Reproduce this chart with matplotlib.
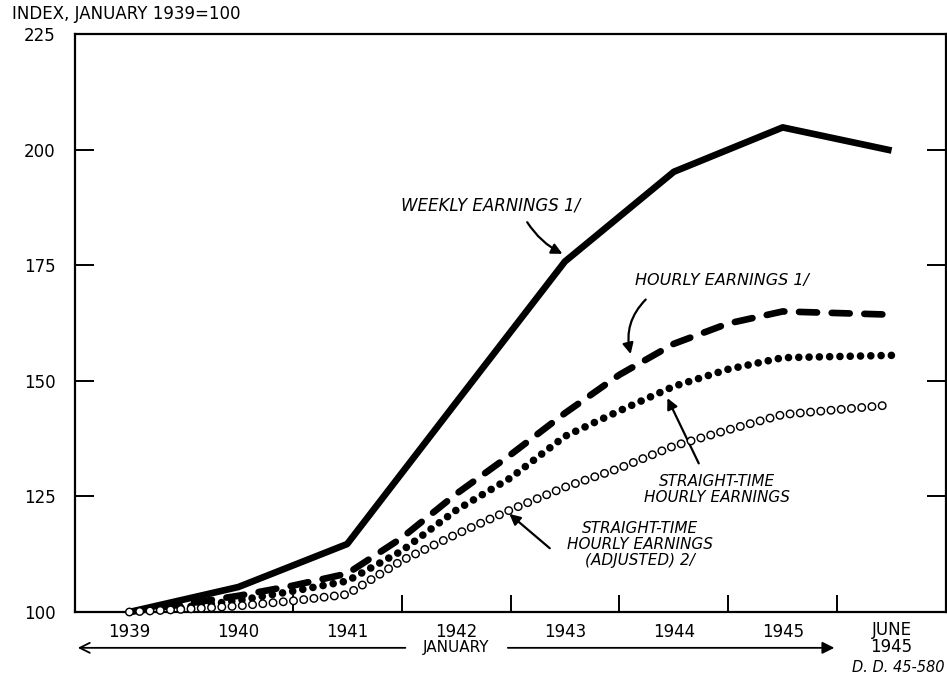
import matplotlib.pyplot as plt

# index, January 1939 = 100
x_labels = ['1939', '1940', '1941', '1942', '1943', '1944', '1945']
x_pos = [0, 0.5, 1, 1.5, 2, 2.5, 3, 3.5, 4, 4.5, 5, 5.5, 6, 7]
weekly_x = [0, 1, 2, 3, 4, 5, 6, 7]
weekly = [100, 105.4, 114.7, 145.3, 175.8, 195.2, 204.8, 199.8]
hourly = [100, 101.7, 103.5, 105.7, 108.3, 116, 125.5, 134, 143, 151.3, 158, 162.4, 165, 164.3]
straight = [100, 101, 102.5, 104.5, 106.7, 113.2, 122, 129, 138, 143.5, 148.8, 152.5, 155, 155.5]
adjusted = [100, 100.6, 101.3, 102.4, 103.8, 111.1, 116.8, 122.1, 127, 131.1, 135.9, 139.4, 142.7, 144.8]
y_ticks = [100, 125, 150, 175, 200, 225]

fig = plt.figure(figsize=(9.47, 6.75), dpi=100)
ax = fig.add_axes([75/947, 63/675, 871/947, 578/675])
ax.set_xlim(-0.5, 7.5)
ax.set_ylim(100, 225)

ax.plot(weekly_x, weekly, color='black', lw=4.8, solid_joinstyle='round',
        solid_capstyle='butt', clip_on=False, zorder=3)
ax.plot(x_pos, hourly, color='black', lw=4.8, linestyle=(0, (2.7, 2.2)),
        dash_capstyle='round', clip_on=False, zorder=3)
ax.plot(x_pos, straight, color='black', lw=5.5, linestyle=(0, (0.01 / 5.5, 7.4 / 5.5)),
        dash_capstyle='round', clip_on=False, zorder=3)
# open circles: black dots with smaller white dots on top
period = 7.4
ax.plot(x_pos, adjusted, color='black', lw=6.5,
        linestyle=(0, (0.01 / 6.5, (period - 0.01) / 6.5)),
        dash_capstyle='round', clip_on=False, zorder=3)
ax.plot(x_pos, adjusted, color='white', lw=4.4,
        linestyle=(0, (0.01 / 4.4, (period - 0.01) / 4.4)),
        dash_capstyle='round', clip_on=False, zorder=4)

for s in ax.spines.values():
    s.set_linewidth(1.6)

ax.set_yticks(y_ticks)
ax.set_yticklabels([str(v) for v in y_ticks])
ax.tick_params(axis='y', left=True, right=True, direction='in', length=14,
               width=1.4, labelsize=12, pad=14)
ax.set_xticks(range(len(x_labels)))
ax.set_xticklabels(x_labels)
ax.tick_params(axis='x', which='major', length=0, labelsize=12, pad=8)
ax.set_xticks([1.5, 2.5, 3.5, 4.5, 5.5, 6.5], minor=True)
ax.tick_params(axis='x', which='minor', direction='in', length=12, width=1.4)

fig.text(12/947, 1 - 14/675, 'INDEX, JANUARY 1939=100', fontsize=12, va='center')

# June 1945 label
ax.annotate('JUNE', xy=(7, 0), xycoords=('data', 'axes fraction'),
            xytext=(0, -13), textcoords='offset points', ha='center', va='center', fontsize=12)
ax.annotate('1945', xy=(7, 0), xycoords=('data', 'axes fraction'),
            xytext=(0, -25), textcoords='offset points', ha='center', va='center', fontsize=12)

# January arrow
ax.annotate('', xy=(-0.5, -0.062), xytext=(2.56, -0.062),
            xycoords=('data', 'axes fraction'), textcoords=('data', 'axes fraction'),
            arrowprops=dict(arrowstyle='->', lw=1.3, color='black',
                            mutation_scale=18), annotation_clip=False)
ax.annotate('', xy=(6.5, -0.062), xytext=(3.45, -0.062),
            xycoords=('data', 'axes fraction'), textcoords=('data', 'axes fraction'),
            arrowprops=dict(arrowstyle='-|>', lw=1.3, color='black',
                            mutation_scale=18), annotation_clip=False)
ax.text(3.0, -0.062, 'JANUARY', transform=ax.get_xaxis_transform(),
        ha='center', va='center', fontsize=11)

fig.text(944/947, 1 - 667/675, 'D. D. 45-580', ha='right', va='center',
         fontsize=10.5, style='italic')

arrow = dict(arrowstyle='-|>', lw=1.6, color='black', mutation_scale=16)
ax.text(3.32, 188.0, 'WEEKLY EARNINGS 1/', style='italic', fontsize=12,
        ha='center', va='center')
ax.annotate('', xy=(4.0, 177.2), xytext=(3.64, 184.8),
            arrowprops=dict(arrow, connectionstyle='arc3,rad=0.15'))

ax.text(5.44, 171.6, 'HOURLY EARNINGS 1/', style='italic', fontsize=11.5,
        ha='center', va='center')
ax.annotate('', xy=(4.61, 155.2), xytext=(4.76, 168.0),
            arrowprops=dict(arrow, connectionstyle='arc3,rad=0.3'))

ax.text(5.40, 126.5, 'STRAIGHT-TIME\nHOURLY EARNINGS', style='italic', fontsize=11,
        ha='center', va='center', linespacing=1.05)
ax.annotate('', xy=(4.93, 146.8), xytext=(5.24, 131.6), arrowprops=arrow)

ax.text(4.69, 114.6, 'STRAIGHT-TIME\nHOURLY EARNINGS\n(ADJUSTED) 2/', style='italic',
        fontsize=11, ha='center', va='center', linespacing=1.1)
ax.annotate('', xy=(3.47, 121.6), xytext=(3.88, 113.4), arrowprops=arrow)

fig.savefig('out.png', dpi=100)
